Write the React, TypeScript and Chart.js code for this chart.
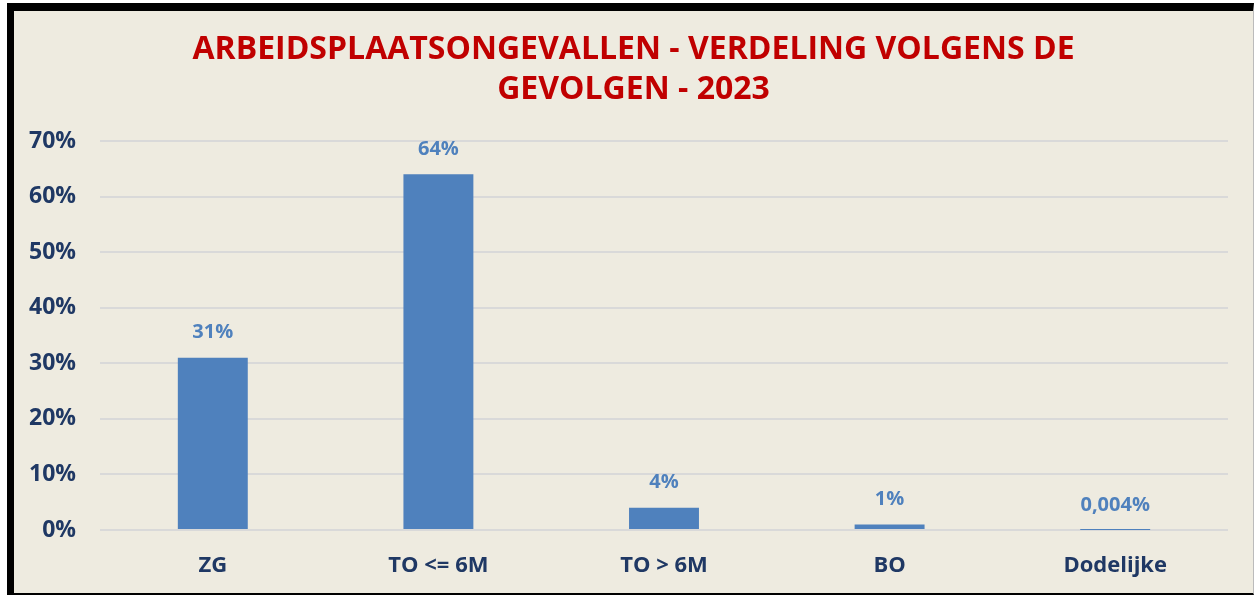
import React, { useEffect, useRef } from "react";
import { Chart, registerables } from "chart.js";

Chart.register(...registerables);

const categories: string[] = ["ZG", "TO <= 6M", "TO > 6M", "BO", "Dodelijke"];
const values: number[] = [31, 64, 4, 1, 0.004];
const yTicks: number[] = [0, 10, 20, 30, 40, 50, 60, 70];
const titleLines: string[] = ["ARBEIDSPLAATSONGEVALLEN - VERDELING VOLGENS DE", "GEVOLGEN - 2023"];

const FONT = "'Open Sans', 'Liberation Sans', sans-serif";
const NAVY = "#1F3864";
const BAR = "#4F81BD";
const BG = "#EEEBE0";

const fmt = (v: number) => String(v).replace(".", ",") + "%";

const labelPlugin = {
  id: "barLabels",
  afterDatasetsDraw(chart: any) {
    const ctx = chart.ctx;
    const meta = chart.getDatasetMeta(0);
    ctx.save();
    ctx.fillStyle = BAR;
    ctx.font = `bold 20px ${FONT}`;
    ctx.textAlign = "center";
    ctx.textBaseline = "middle";
    meta.data.forEach((el: any, i: number) => {
      ctx.fillText(fmt(values[i]), el.x, el.y - 25);
    });
    ctx.restore();
  },
};

const titlePlugin = {
  id: "centeredTitle",
  afterDraw(chart: any) {
    const ctx = chart.ctx;
    ctx.save();
    ctx.fillStyle = "#C00000";
    ctx.font = `bold 32px ${FONT}`;
    ctx.textAlign = "center";
    ctx.textBaseline = "middle";
    titleLines.forEach((line, i) => {
      ctx.fillText(line, chart.width / 2, 39 + i * 40);
    });
    ctx.restore();
  },
};

export default function App() {
  const ref = useRef<HTMLCanvasElement | null>(null);
  useEffect(() => {
    if (!ref.current) return;
    const chart = new Chart(ref.current, {
      type: "bar",
      data: {
        labels: categories,
        datasets: [
          {
            data: values,
            backgroundColor: BAR,
            barPercentage: 0.62,
            categoryPercentage: 0.5,
          },
        ],
      },
      options: {
        animation: false,
        responsive: false,
        layout: { padding: { top: 130, right: 25, bottom: 0, left: 0 } },
        plugins: {
          legend: { display: false },
          tooltip: { enabled: false },
          title: { display: false },
        },
        scales: {
          x: {
            grid: { display: false, drawTicks: false },
            border: { display: false },
            ticks: {
              color: NAVY,
              font: { family: FONT, size: 22, weight: "bold" },
              padding: 23,
            },
            afterFit: (s: any) => {
              s.height = 62;
            },
          },
          y: {
            min: 0,
            max: 70,
            afterBuildTicks: (s: any) => {
              s.ticks = yTicks.map((v) => ({ value: v }));
            },
            grid: { color: "#D9D9D9", lineWidth: 2, drawTicks: false },
            border: { display: false },
            ticks: {
              color: NAVY,
              font: { family: FONT, size: 23, weight: "bold" },
              padding: 24,
              callback: (v: any) => v + "%",
            },
            afterFit: (s: any) => {
              s.width = 86;
            },
          },
        },
      },
      plugins: [labelPlugin, titlePlugin],
    });
    return () => chart.destroy();
  }, []);

  return (
    <div style={{ position: "absolute", left: 0, top: 0, width: 1256, height: 595, background: "#fff", overflow: "hidden" }}>
      <div
        style={{
          position: "absolute",
          left: 7,
          top: 3,
          width: 1247,
          height: 592,
          boxSizing: "border-box",
          borderTop: "8px solid #000",
          borderLeft: "7px solid #000",
          borderBottom: "2px solid #000",
          borderRight: "1px solid #bbb",
          background: BG,
        }}
      >
        <canvas ref={ref} width={1239} height={581} style={{ display: "block" }} />
      </div>
    </div>
  );
}
